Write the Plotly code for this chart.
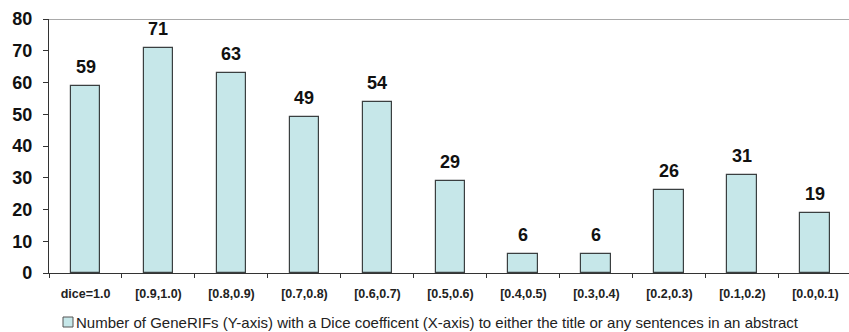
import plotly.graph_objects as go

categories = ["dice=1.0", "[0.9,1.0)", "[0.8,0.9)", "[0.7,0.8)", "[0.6,0.7)", "[0.5,0.6)",
              "[0.4,0.5)", "[0.3,0.4)", "[0.2,0.3)", "[0.1,0.2)", "[0.0,0.1)"]
counts = [59, 71, 63, 49, 54, 29, 6, 6, 26, 31, 19]
y_ticks = [0, 10, 20, 30, 40, 50, 60, 70, 80]
series_name = ("Number of GeneRIFs (Y-axis) with a Dice coefficent (X-axis) "
               "to either the title or any sentences in an abstract")

BAR_FILL = "#c6e7e9"
BAR_EDGE = "#3a3f40"
FONT = "Arial, Liberation Sans, sans-serif"

fig = go.Figure()
fig.add_trace(go.Bar(
    x=list(range(len(categories))),
    y=counts,
    width=0.41,
    name=series_name,
    marker=dict(color=BAR_FILL, line=dict(color=BAR_EDGE, width=1.2)),
    showlegend=False,
))

for i, v in enumerate(counts):
    fig.add_annotation(x=i, y=v, text=str(v), showarrow=False, yanchor="bottom",
                       yshift=7, font=dict(family=FONT, size=18,
                                           color="#111111", weight="bold"))

# top border of the plotting area
fig.add_shape(type="line", xref="paper", yref="y", x0=0, x1=1, y0=80, y1=80,
              line=dict(color="#555555", width=1))

# series key below the chart
fig.add_shape(type="rect", xref="paper", yref="paper",
              x0=14 / 800, x1=24 / 800, y0=(273 - 327) / 254, y1=(273 - 317) / 254,
              line=dict(color="#555555", width=1), fillcolor=BAR_FILL)
fig.add_annotation(xref="paper", yref="paper", x=25 / 800, y=(273 - 322) / 254,
                   xanchor="left", yanchor="middle", showarrow=False, text=series_name,
                   font=dict(family=FONT, size=15, color="#222222"))

fig.update_layout(
    width=849, height=332,
    margin=dict(l=49, r=0, t=19, b=59),
    paper_bgcolor="white", plot_bgcolor="white",
    bargap=0,
    font=dict(family=FONT, color="#111111"),
    xaxis=dict(
        range=[-0.5, 10.46],
        tickmode="array",
        tickvals=list(range(len(categories))),
        ticktext=categories,
        showline=True, linecolor="#333333", linewidth=1.2,
        ticks="", showgrid=False, zeroline=False, automargin=False,
        ticklabelstandoff=9,
        tickfont=dict(size=12.5, weight="bold", color="#222222"),
        minor=dict(tickmode="array", tickvals=[i + 0.5 for i in range(-1, len(categories))],
                   ticks="outside", ticklen=4, tickcolor="#333333"),
    ),
    yaxis=dict(
        range=[0, 80],
        tickmode="array", tickvals=y_ticks,
        showline=True, linecolor="#333333", linewidth=1.2,
        ticks="outside", ticklen=5, tickcolor="#333333",
        showgrid=False, zeroline=False, automargin=False,
        ticklabelstandoff=7,
        tickfont=dict(size=18, weight="bold", color="#111111"),
    ),
)

fig.write_html("out.html")
